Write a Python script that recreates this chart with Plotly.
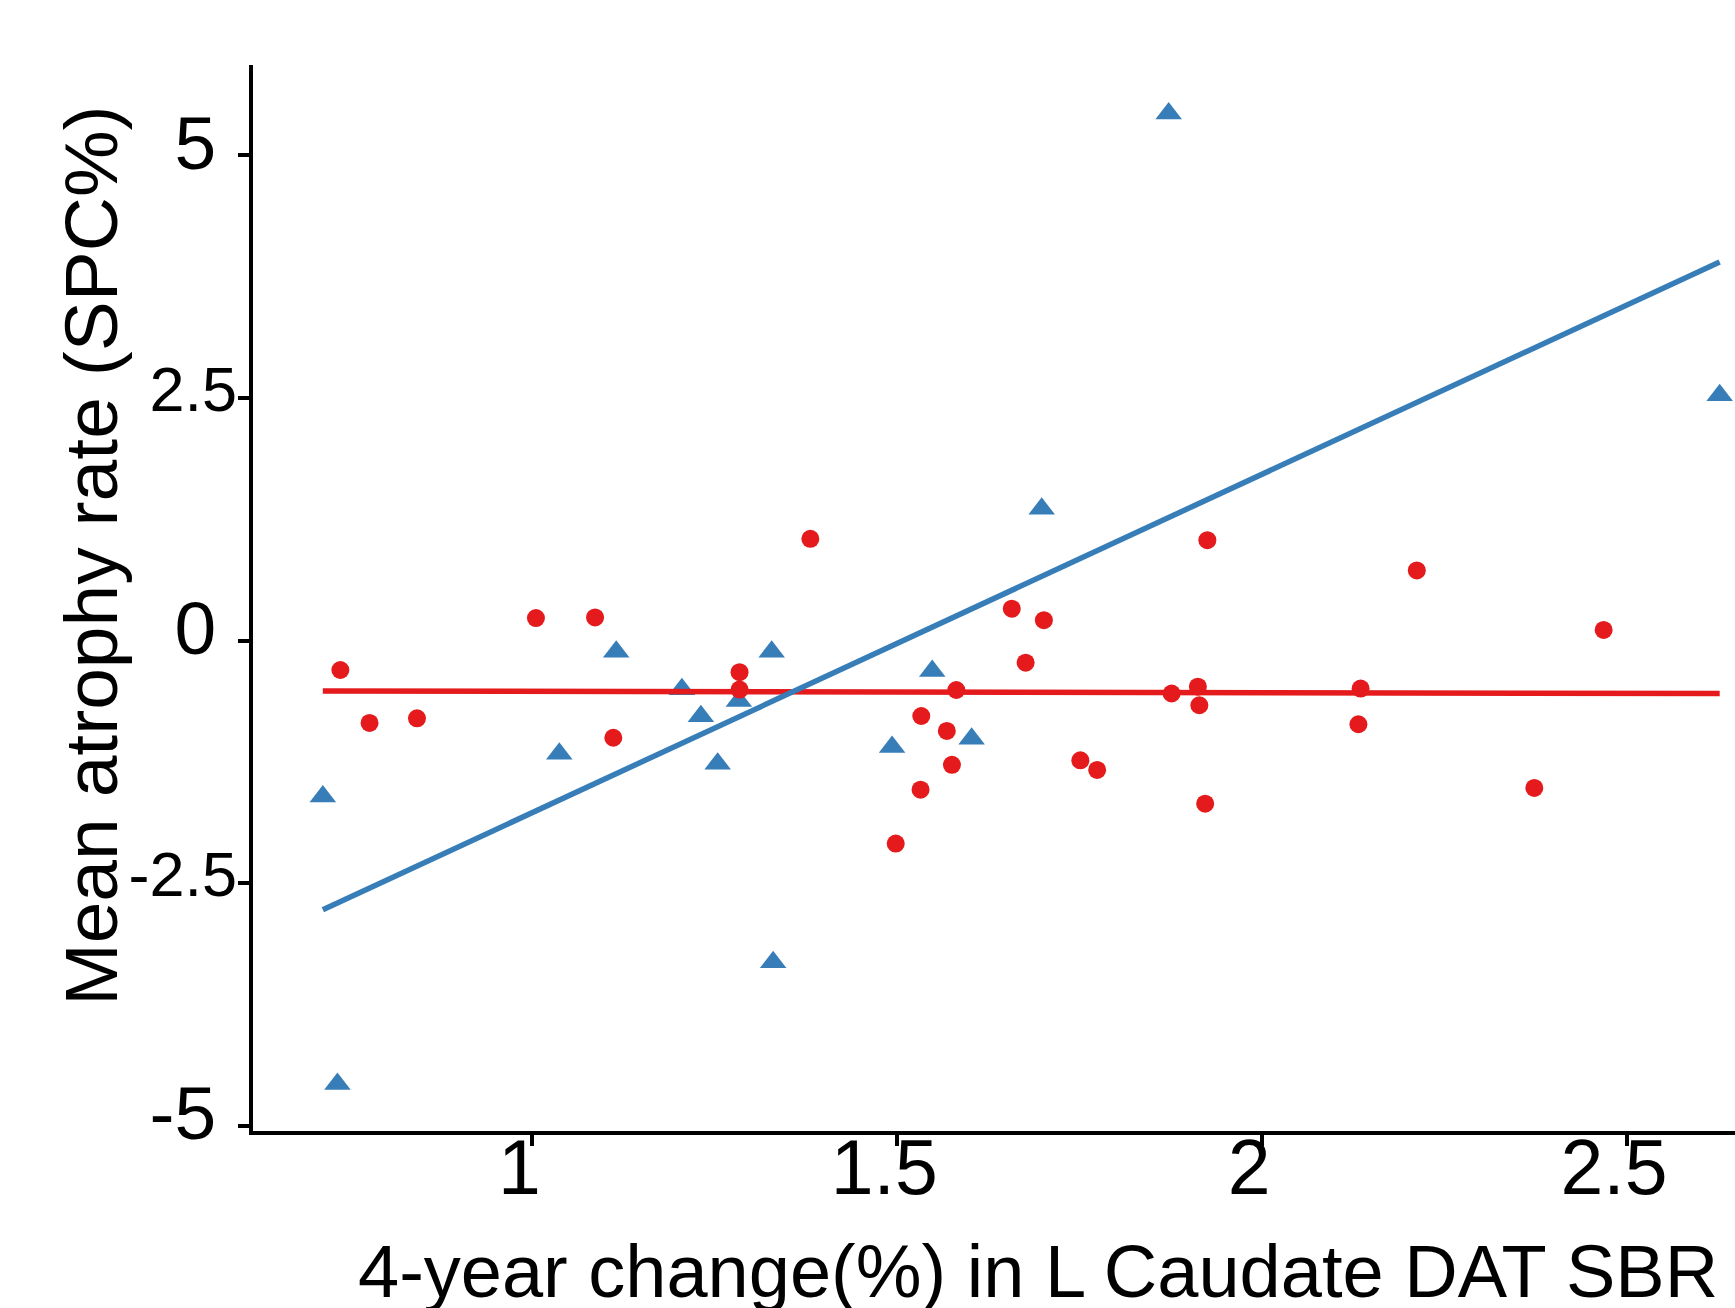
import plotly.graph_objects as go

# ---- data ----
red_x = [0.737, 0.777, 0.842, 1.005, 1.086, 1.111, 1.284, 1.284, 1.381, 1.498,
         1.532, 1.533, 1.568, 1.575, 1.581, 1.657, 1.676, 1.701, 1.751, 1.774,
         1.876, 1.912, 1.914, 1.922, 1.925, 2.135, 2.132, 2.212, 2.373, 2.468]
red_y = [-0.304, -0.849, -0.802, 0.231, 0.238, -1.002, -0.326, -0.505, 1.048, -2.092,
         -1.537, -0.778, -0.932, -1.281, -0.510, 0.328, -0.228, 0.210, -1.235, -1.333,
         -0.546, -0.476, -0.667, -1.681, 1.034, -0.495, -0.863, 0.722, -1.519, 0.109]

blue_x = [0.713, 0.733, 1.037, 1.115, 1.205, 1.231, 1.254, 1.283, 1.328, 1.330,
          1.493, 1.548, 1.602, 1.698, 1.872, 2.627]
blue_y = [-1.607, -4.569, -1.166, -0.117, -0.501, -0.780, -1.269, -0.624, -0.116, -3.316,
          -1.097, -0.313, -1.013, 1.357, 5.430, 2.526]

red_fit_x = [0.713, 2.627]
red_fit_y = [-0.519, -0.546]
blue_fit_x = [0.713, 2.627]
blue_fit_y = [-2.774, 3.900]

x_tickvals = [1, 1.5, 2, 2.5]
x_ticktext = ["1", "1.5", "2", "2.5"]
y_tickvals = [-5, -2.5, 0, 2.5, 5]
y_ticktext = ["-5\u00a0", "<span style='font-size:63px'>-2.5</span>", "0\u00a0",
              "<span style='font-size:63px'>2.5</span>", "5\u00a0"]

x_title = "4-year change(%) in L Caudate DAT SBR"
y_title = "Mean atrophy rate (SPC%)"

RED = "#E41A1C"
BLUE = "#377EB8"
FONT = "Liberation Sans, Arial, sans-serif"

fig = go.Figure()
fig.add_trace(go.Scatter(x=blue_x, y=blue_y, mode="markers",
                         marker=dict(symbol="triangle-up", size=23, color=BLUE, line=dict(width=0)),
                         cliponaxis=False))
fig.add_trace(go.Scatter(x=red_x, y=red_y, mode="markers",
                         marker=dict(symbol="circle", size=18, color=RED, line=dict(width=0)),
                         cliponaxis=False))
fig.add_trace(go.Scatter(x=red_fit_x, y=red_fit_y, mode="lines",
                         line=dict(color=RED, width=5.5)))
fig.add_trace(go.Scatter(x=blue_fit_x, y=blue_fit_y, mode="lines",
                         line=dict(color=BLUE, width=5.5)))

axis_common = dict(showgrid=False, zeroline=False, showline=True, linecolor="black",
                   linewidth=4, ticks="outside", ticklen=11, tickwidth=4,
                   tickcolor="black")

fig.update_xaxes(range=[0.6173, 2.648], tickmode="array", tickvals=x_tickvals,
                 ticktext=x_ticktext, tickfont=dict(size=77, color="black", family=FONT),
                 ticklabelshift=-13, ticklabelstandoff=-44, **axis_common)
fig.update_yaxes(range=[-5.054, 5.93], tickmode="array", tickvals=y_tickvals,
                 ticktext=y_ticktext, tickfont=dict(size=75, color="black", family=FONT),
                 ticklabelshift=-13, ticklabelstandoff=-14, **axis_common)

fig.update_layout(
    width=1735, height=1308, autosize=False,
    margin=dict(l=253, r=0, t=65, b=177, pad=0),
    plot_bgcolor="white", paper_bgcolor="white",
    showlegend=False,
    font=dict(family=FONT, color="black"),
    annotations=[
        dict(text=x_title, xref="paper", yref="paper", x=0.530, y=-0.1316,
             xanchor="center", yanchor="middle", showarrow=False,
             font=dict(size=74, color="black", family=FONT)),
        dict(text=y_title, xref="paper", yref="paper", x=-0.109, y=0.540,
             xanchor="center", yanchor="middle", showarrow=False, textangle=-90,
             font=dict(size=75, color="black", family=FONT)),
    ],
)

fig.write_html("out.html")
